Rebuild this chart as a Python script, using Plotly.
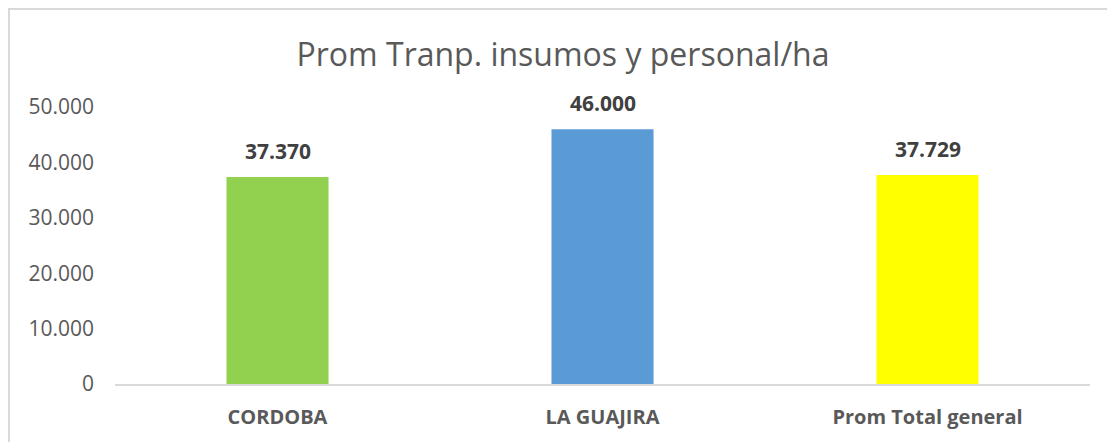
import plotly.graph_objects as go

categories = ["CORDOBA", "LA GUAJIRA", "Prom Total general"]
values = [37370, 46000, 37729]
colors = ["#92D050", "#5B9BD5", "#FFFF00"]
y_ticks = [0, 10000, 20000, 30000, 40000, 50000]

fig = go.Figure()
fig.add_trace(go.Bar(x=categories, y=values, marker=dict(color=colors, line=dict(width=0)),
                     hoverinfo="skip"))

# data labels above the bars
for cat, val in zip(categories, values):
    fig.add_annotation(x=cat, y=val, text="<b>" + f"{val:,}".replace(",", ".") + "</b>",
                       showarrow=False, yshift=26,
                       font=dict(family="Open Sans", size=21, color="#404040"))

# outer chart border (page has an 8px body margin)
fig.add_shape(type="rect", xref="paper", yref="paper",
              x0=(1 - 107) / 975, x1=1.2, y0=-0.5, y1=(384 - 9) / 277,
              line=dict(color="#D9D9D9", width=2), layer="below")

fig.update_layout(
    width=1115, height=442, autosize=False,
    margin=dict(l=107, r=33, t=99, b=66),
    paper_bgcolor="white", plot_bgcolor="white",
    separators=",.",
    bargap=0.686,
    showlegend=False,
    title=dict(text="Prom Tranp. insumos y personal/ha", x=(563 - 8) / 1115, xanchor="center",
               y=1 - 47 / 442, yanchor="middle",
               font=dict(family="Open Sans", size=32, color="#595959")),
    font=dict(family="Open Sans", color="#595959"),
)
fig.update_xaxes(showline=True, linecolor="#D9D9D9", linewidth=2, showgrid=False,
                 ticks="", ticklabelstandoff=14,
                 tickfont=dict(family="Open Sans", size=20, color="#595959", weight="bold"))
fig.update_yaxes(range=[0, 50000], tickvals=y_ticks, tickformat=",.0f",
                 showgrid=False, zeroline=False, showline=False, ticks="",
                 ticklabelstandoff=20,
                 tickfont=dict(family="Open Sans", size=21, color="#595959"))

fig.write_html("out.html")
